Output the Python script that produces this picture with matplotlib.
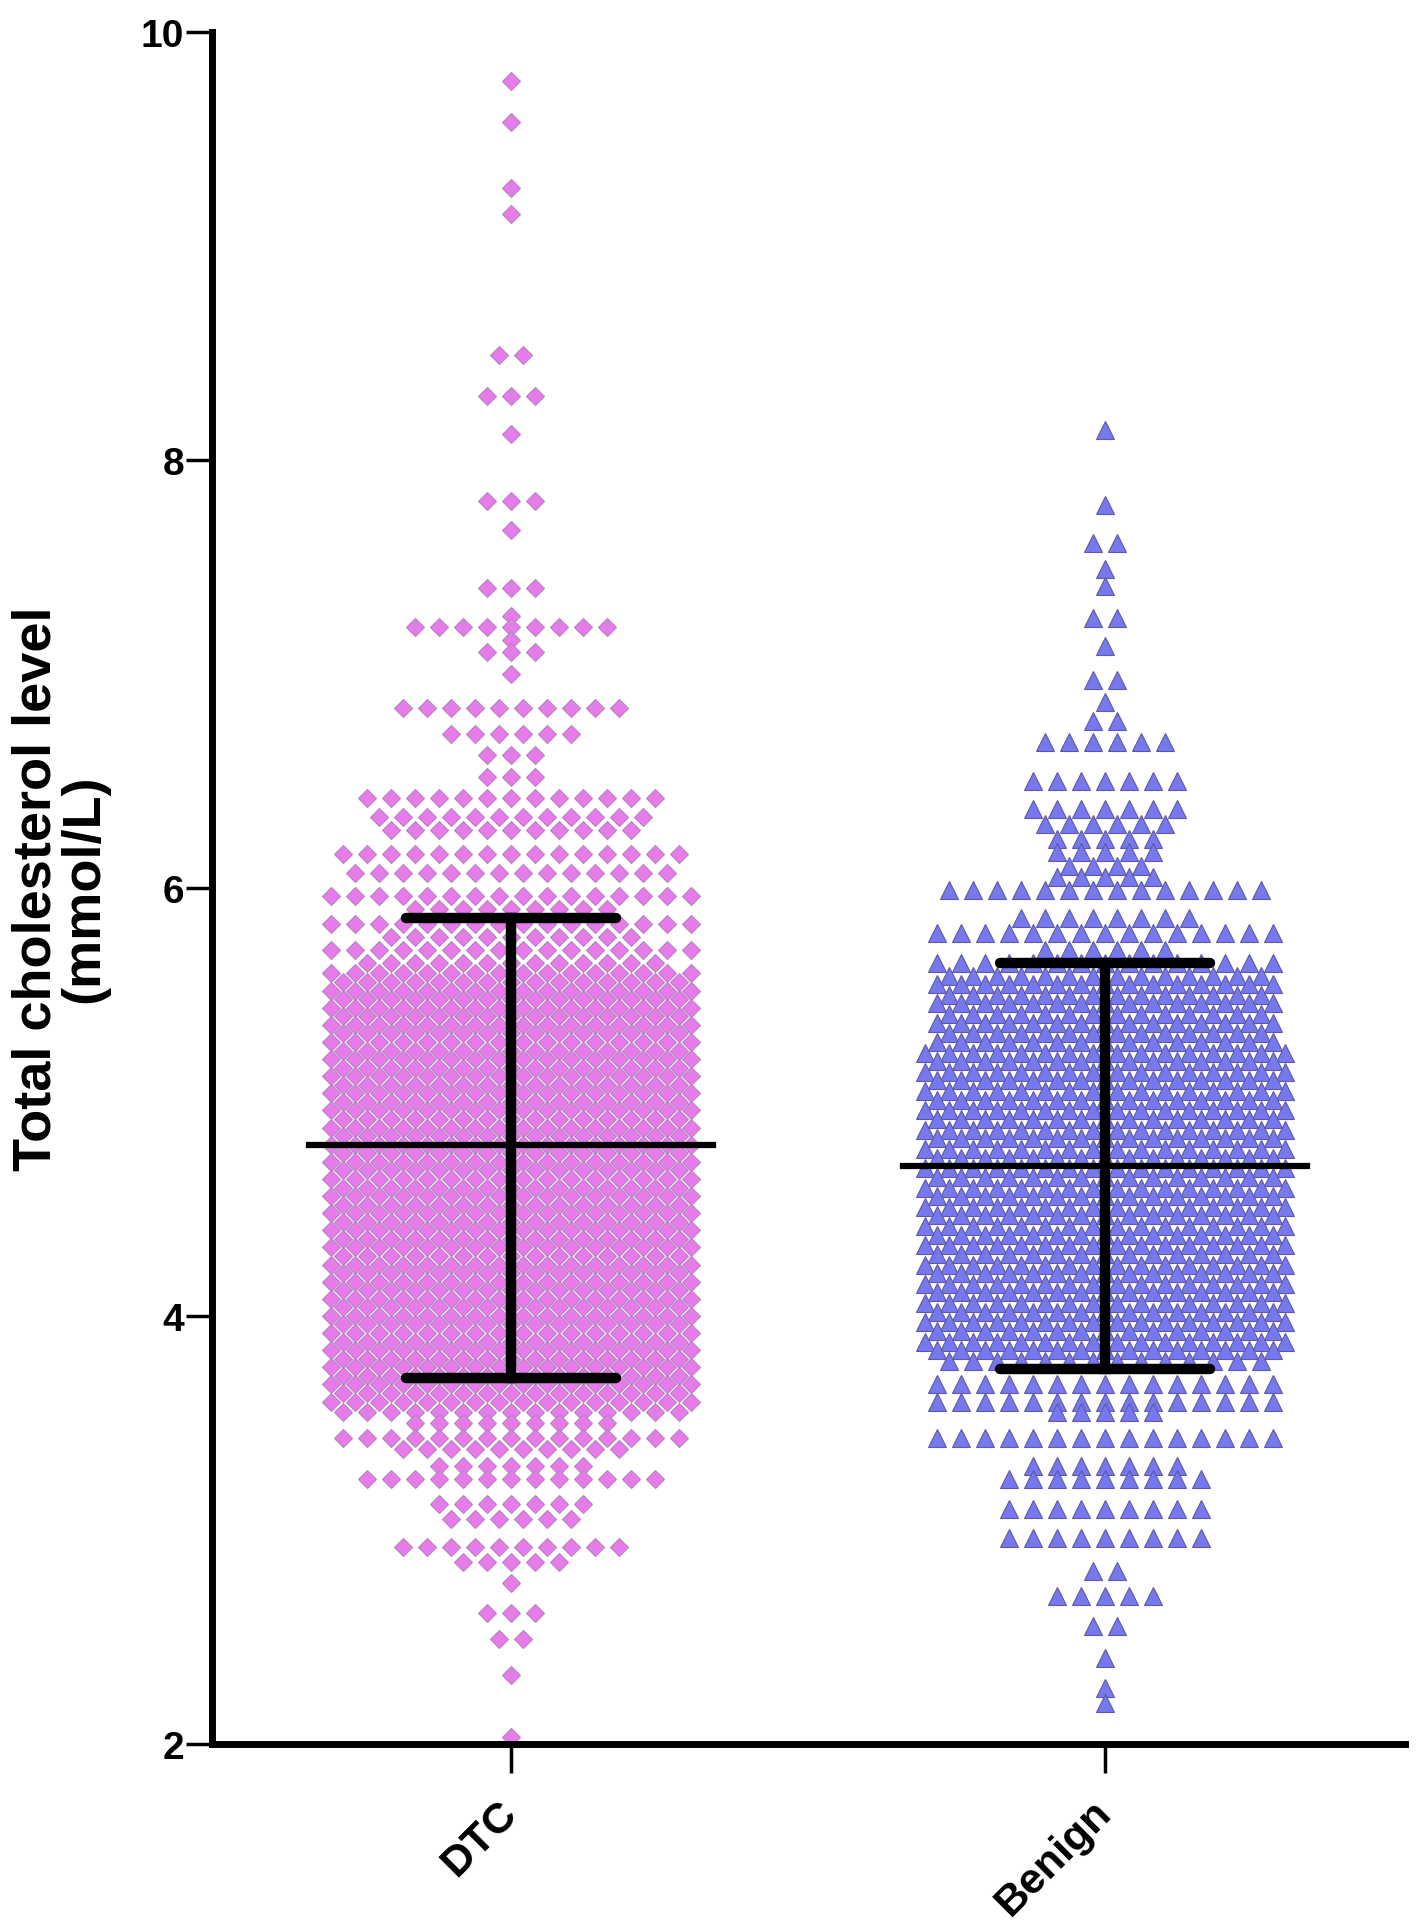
import matplotlib
matplotlib.use("Agg")
import matplotlib.pyplot as plt
import numpy as np

# groups and summary lines (mean and +/- SD)
groups = ["DTC", "Benign"]
group_means = [4.80, 4.70]
group_sd_low = [3.71, 3.75]
group_sd_high = [5.86, 5.65]

# DTC: each row is one value level and the number of points drawn side by side there
dtc_levels = [
    9.77, 9.58, 9.27, 9.15, 8.49, 8.30, 8.12, 7.81, 7.67, 7.40,
    7.27, 7.22, 7.16, 7.10, 7.00, 6.84, 6.72, 6.62, 6.52, 6.42,
    6.33, 6.27, 6.16, 6.07, 5.96, 5.90, 5.83, 5.77, 5.71, 5.65,
    5.60, 5.56, 5.52, 5.48, 5.44, 5.40, 5.36, 5.32, 5.28, 5.24,
    5.20, 5.16, 5.12, 5.08, 5.04, 5.00, 4.96, 4.92, 4.88, 4.84,
    4.80, 4.76, 4.72, 4.68, 4.64, 4.60, 4.56, 4.52, 4.48, 4.44,
    4.40, 4.36, 4.32, 4.28, 4.24, 4.20, 4.16, 4.12, 4.08, 4.04,
    4.00, 3.96, 3.92, 3.88, 3.84, 3.80, 3.76, 3.72, 3.68, 3.64,
    3.60, 3.55, 3.50, 3.43, 3.38, 3.30, 3.24, 3.12, 3.05, 2.92,
    2.85, 2.75, 2.61, 2.49, 2.32, 2.03,
]
dtc_counts = [
    1, 1, 1, 1, 2, 3, 1, 3, 1, 3,
    1, 9, 1, 3, 1, 10, 6, 3, 3, 13,
    12, 11, 15, 14, 16, 9, 16, 11, 16, 13,
    16, 15, 16, 15, 16, 15, 16, 15, 16, 15,
    16, 15, 16, 15, 16, 15, 16, 15, 16, 15,
    16, 15, 16, 15, 16, 15, 16, 15, 16, 15,
    16, 15, 16, 15, 16, 15, 16, 15, 16, 15,
    16, 15, 16, 15, 16, 15, 16, 15, 16, 15,
    16, 15, 9, 15, 10, 7, 13, 7, 6, 10,
    5, 1, 3, 2, 1, 1,
]

# Benign rows
benign_levels = [
    8.14, 7.79, 7.61, 7.49, 7.41, 7.26, 7.13, 6.97, 6.87, 6.78,
    6.68, 6.50, 6.37, 6.30, 6.23, 6.17, 6.10, 6.05, 5.99, 5.86,
    5.79, 5.71, 5.65,
    5.59, 5.55, 5.50, 5.46, 5.41, 5.37, 5.32, 5.28, 5.23, 5.19,
    5.14, 5.10, 5.05, 5.01, 4.96, 4.92, 4.87, 4.83, 4.78, 4.74,
    4.69, 4.65, 4.60, 4.56, 4.51, 4.47, 4.42, 4.38, 4.33, 4.29,
    4.24, 4.20, 4.15, 4.11, 4.06, 4.02, 3.97, 3.93, 3.88, 3.84,
    3.79, 3.68, 3.60, 3.55, 3.43, 3.30, 3.24, 3.10, 2.96, 2.81,
    2.69, 2.55, 2.40, 2.26, 2.19,
]
benign_counts = [
    1, 1, 2, 1, 1, 2, 1, 2, 1, 2,
    6, 7, 7, 6, 5, 5, 4, 5, 14, 8,
    15, 6, 15,
    14, 15, 14, 15, 14, 15, 14, 15, 16, 15,
    16, 15, 16, 15, 16, 15, 16, 15, 16, 15,
    16, 15, 16, 15, 16, 15, 16, 15, 16, 15,
    16, 15, 16, 15, 16, 15, 16, 15, 16, 15,
    14, 15, 15, 5, 15, 7, 9, 9, 9, 2,
    5, 2, 1, 1, 1,
]

STEP = 0.0404  # horizontal gap between neighbouring points, in x units


def row_points(center, levels, counts):
    xs, ys = [], []
    for level, n in zip(levels, counts):
        offs = (np.arange(n) - (n - 1) / 2.0) * STEP
        xs.extend(center + offs)
        ys.extend([level] * n)
    return np.array(xs), np.array(ys)


plt.rcParams["font.family"] = ["Liberation Sans", "DejaVu Sans"]
plt.rcParams["font.weight"] = "bold"

fig = plt.figure(figsize=(14.17, 19.33), dpi=100)
ax = fig.add_axes([0.1496, 0.0973, 0.8419, 0.8857])

x_dtc, y_dtc = row_points(0, dtc_levels, dtc_counts)
ax.plot(x_dtc, y_dtc, "D", ms=8.8, mfc="#E67BE9", mec="#B586C2", mew=0.8, ls="none", zorder=2)

x_ben, y_ben = row_points(1, benign_levels, benign_counts)
ax.plot(x_ben, y_ben, "^", ms=13, mfc="#7878EE", mec="#5A5AA8", mew=0.8, ls="none", zorder=2)

for i in range(len(groups)):
    ax.plot([i - 0.34, i + 0.34], [group_means[i], group_means[i]], color="black", lw=4.5, zorder=3)
    ax.plot([i, i], [group_sd_low[i], group_sd_high[i]], color="black", lw=7.5, zorder=3)
    for v in (group_sd_low[i], group_sd_high[i]):
        ax.plot([i - 0.177, i + 0.177], [v, v], color="black", lw=7.5, solid_capstyle="round", zorder=3)

ax.set_xlim(-0.503, 1.505)
ax.set_ylim(2, 10)
ax.set_yticks([2, 4, 6, 8, 10])
ax.set_yticklabels(["2", "4", "6", "8", "10"], fontsize=28, fontweight="bold")
ax.set_xticks([0, 1])
ax.set_xticklabels(groups, fontsize=31, fontweight="bold", rotation=45,
                   ha="right", va="center", rotation_mode="anchor")

for side in ("top", "right"):
    ax.spines[side].set_visible(False)
for side in ("left", "bottom"):
    ax.spines[side].set_linewidth(5)
ax.tick_params(axis="y", length=19, width=2.5, pad=1)
ax.tick_params(axis="x", length=21, width=2.5, pad=24)

ax.set_ylabel("Total cholesterol level\n(mmol/L)", fontsize=39, fontweight="bold", linespacing=0.95)
ax.yaxis.set_label_coords(-0.086, 0.5)

fig.savefig("out.png", dpi=100, facecolor="white")
